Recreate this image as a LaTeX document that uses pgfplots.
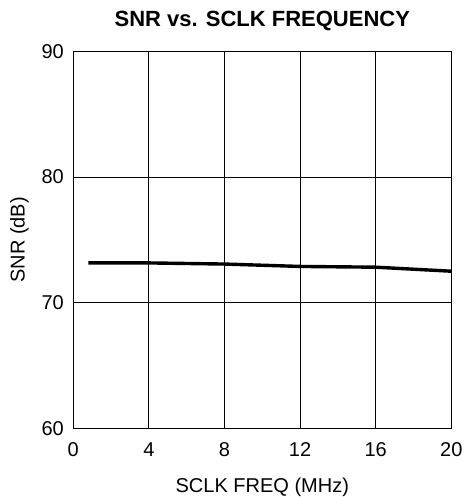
\documentclass[border=0pt]{standalone}
\usepackage{pgfplots}
\pgfplotsset{compat=1.18}
\usepackage{fontspec}
\setmainfont{Liberation Sans}

\begin{document}
\begin{tikzpicture}
\begin{axis}[
    scale only axis,
    width=378pt, height=377pt,
    xmin=0, xmax=20, ymin=60, ymax=90,
    xtick={0,4,...,20}, ytick={60,70,80,90},
    grid=major,
    major grid style={black, line width=0.9pt},
    axis line style={black, line width=1.1pt},
    tick style={draw=none},
    /pgf/number format/assume math mode=true,
    tick label style={font=\fontsize{20}{24}\selectfont},
    xticklabel style={yshift=-11pt},
    yticklabel style={xshift=-6pt},
    xlabel={SCLK FREQ (MHz)},
    ylabel={SNR (dB)},
    label style={font=\fontsize{20}{24}\selectfont},
    xlabel style={inner sep=0pt, yshift=-17.5pt},
    ylabel style={yshift=6pt},
    title={SNR vs. SCLK FREQUENCY},
    title style={font=\fontsize{22}{26}\selectfont\bfseries, yshift=11pt},
]
\addplot[black, line width=3.4pt] coordinates {
    (0.8,73.16) (4,73.16) (8,73.07) (12,72.88) (16,72.82) (20,72.5)
};
\end{axis}
% page frame matching the reference margins
\pgfresetboundingbox
\path ([shift={(-73.3pt,-68.7pt)}]current axis.south west)
    rectangle ([shift={(13.3pt,51.3pt)}]current axis.north east);
\end{tikzpicture}
\end{document}
